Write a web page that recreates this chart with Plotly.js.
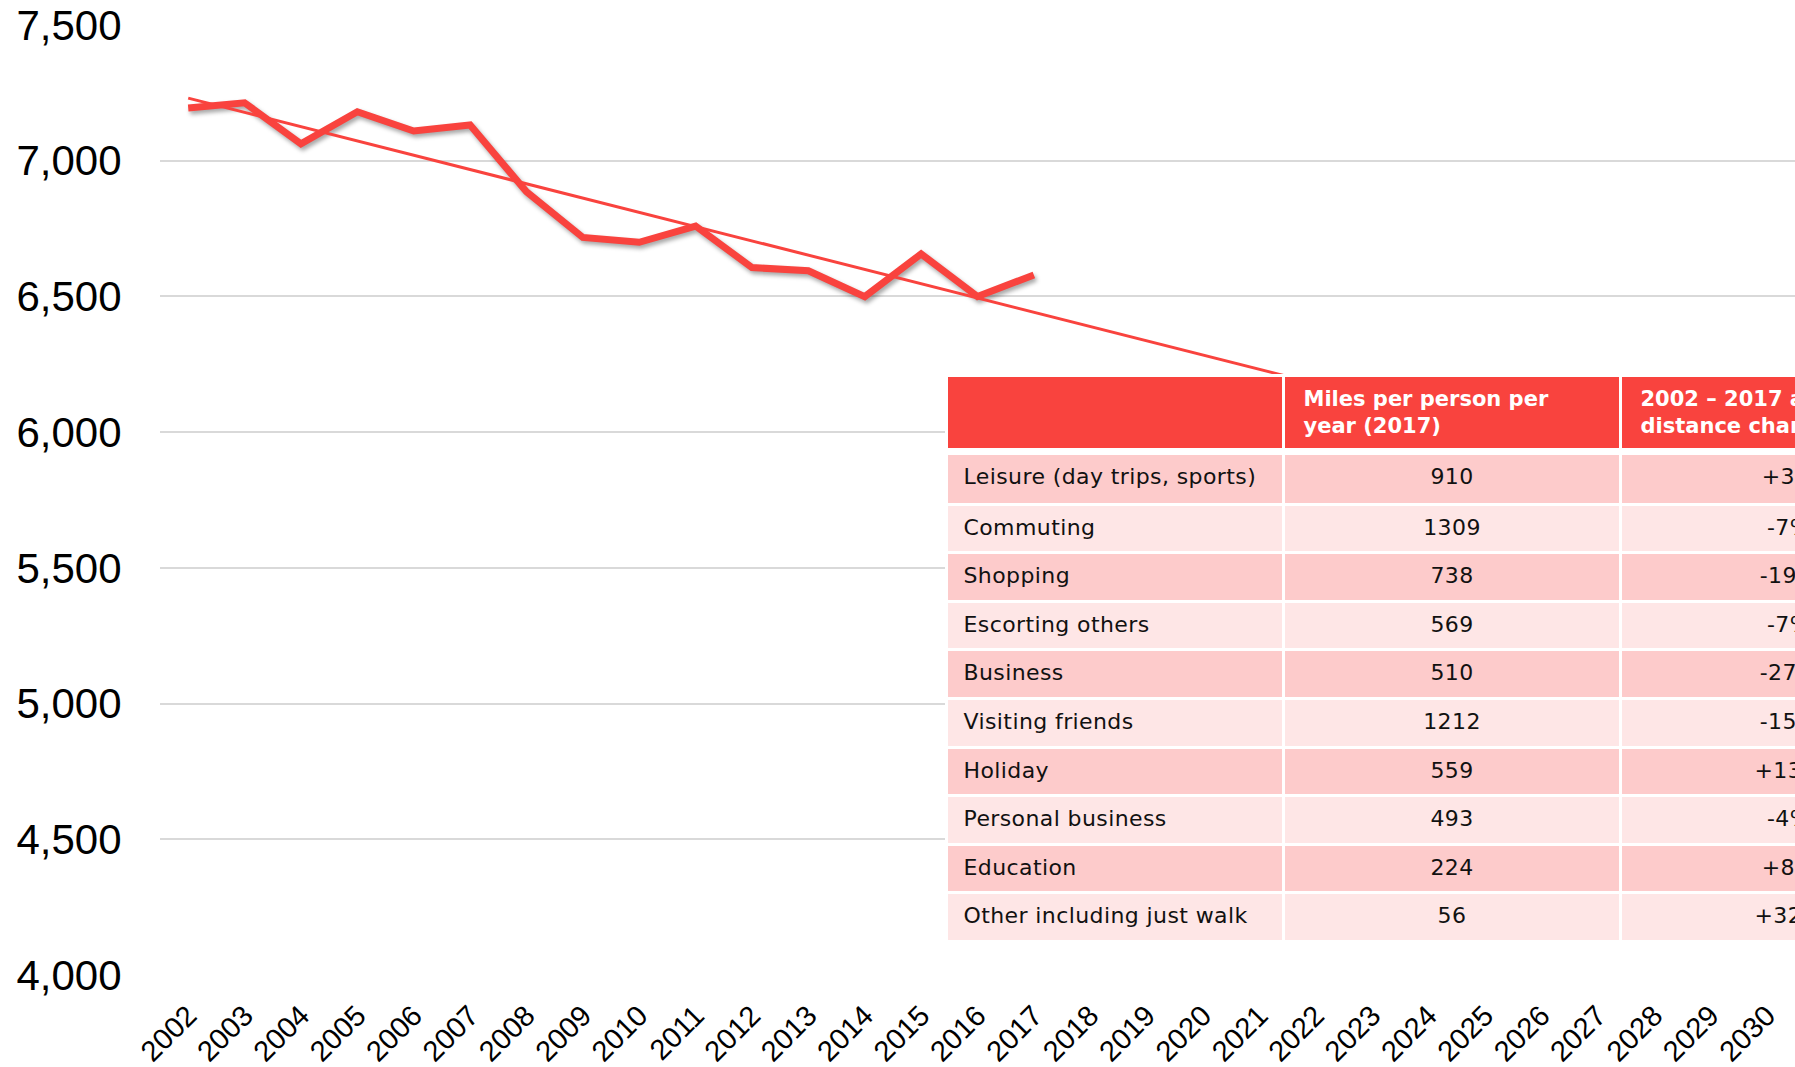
<!DOCTYPE html>
<html>
<head>
<meta charset="utf-8">
<script src="https://cdn.plot.ly/plotly-3.0.1.min.js"></script>
<style>
  html, body { margin: 0; padding: 0; overflow: hidden; background: #fff; width: 1795px; height: 1067px; }
  #chart { width: 2000px; height: 1067px; }
  .scatterlayer .trace:first-child .js-line { filter: drop-shadow(2px 3px 2px rgba(0,0,0,0.35)); }
  #chart g.table.tblA .cell-text { translate: 12px 4px; }
  #chart g.table.tblB .cell-text { translate: 0px 6px; letter-spacing: 0.4px; }
  #chart g.table.tblB .cell-text.leftcol { translate: 9px 6px; }
</style>
</head>
<body>
<div id="chart"></div>
<script>
// ---- data ----
const allYears = ['2002','2003','2004','2005','2006','2007','2008','2009','2010','2011','2012','2013','2014','2015','2016','2017','2018','2019','2020','2021','2022','2023','2024','2025','2026','2027','2028','2029','2030'];
const dataYears = ['2002','2003','2004','2005','2006','2007','2008','2009','2010','2011','2012','2013','2014','2015','2016','2017'];
const milesWalked = [7194, 7213, 7062, 7180, 7109, 7131, 6885, 6717, 6699, 6759, 6606, 6594, 6499, 6656, 6499, 6579];
const trendYears = ['2002', '2030'];
const trendValues = [7230, 5758];
const yTicks = [4000, 4500, 5000, 5500, 6000, 6500, 7000, 7500];

const tableHeader = ['', 'Miles per person per<br>year (2017)', '2002 – 2017 average<br>distance change'];
const purposes = ['Leisure (day trips, sports)', 'Commuting', 'Shopping', 'Escorting others', 'Business', 'Visiting friends', 'Holiday', 'Personal business', 'Education', 'Other including just walk'];
const miles2017 = ['910', '1309', '738', '569', '510', '1212', '559', '493', '224', '56'];
const distanceChange = ['+3%', '-7%', '-19%', '-7%', '-27%', '-15%', '+13%', '-4%', '+8%', '+32%'];

// ---- layout geometry ----
const W = 2000, H = 1067;
const mL = 160, mR = 0, mT = 24, mB = 91;
const plotW = W - mL - mR, plotH = H - mT - mB;
const xEnd = (1795 - mL) / plotW;
const tblX0 = (946.5 - mL) / plotW, tblX1 = (1958 - mL) / plotW;
const headTop = 1 - (375 - mT) / plotH;
const bodyTop = 1 - (453.5 - mT) / plotH;

const RED = '#F9433E';
const PINK = '#FDCBCB', LIGHT = '#FEE6E6';
const TFONT = 'DejaVu Sans, Verdana, sans-serif';
const rowColors = purposes.map((_, i) => i % 2 === 0 ? PINK : LIGHT);
const columns = [purposes, miles2017, distanceChange];
const firstRow = columns.map(c => c[0]);
const restRows = columns.map(c => c.slice(1));
const restColors = rowColors.slice(1);

const traces = [
  {
    type: 'scatter', mode: 'lines', x: dataYears, y: milesWalked,
    line: { color: RED, width: 7 }, hoverinfo: 'skip', showlegend: false
  },
  {
    type: 'scatter', mode: 'lines', x: trendYears, y: trendValues,
    line: { color: RED, width: 3 }, hoverinfo: 'skip', showlegend: false
  },
  {
    // red header block with a white strip under it
    type: 'table',
    domain: { x: [tblX0, tblX1], y: [0, headTop] },
    columnwidth: [1, 1, 1],
    header: {
      values: tableHeader,
      align: 'left',
      height: 74,
      fill: { color: RED },
      line: { color: '#ffffff', width: 3 },
      font: { family: TFONT, size: 21, color: '#ffffff', weight: 700 }
    },
    cells: {
      values: [[''], [''], ['']],
      height: 10,
      fill: { color: '#ffffff' },
      line: { color: '#ffffff', width: 0 },
      font: { size: 1, color: '#ffffff' }
    }
  },
  {
    // body rows
    type: 'table',
    domain: { x: [tblX0, tblX1], y: [0, bodyTop] },
    columnwidth: [1, 1, 1],
    header: {
      values: firstRow,
      align: ['left', 'center', 'center'],
      height: 50.7,
      fill: { color: PINK },
      line: { color: '#ffffff', width: 3 },
      font: { family: TFONT, size: 22, color: '#111111' }
    },
    cells: {
      values: restRows,
      align: ['left', 'center', 'center'],
      height: 48.56,
      fill: { color: [restColors, restColors, restColors] },
      line: { color: '#ffffff', width: 3 },
      font: { family: TFONT, size: 22, color: '#111111' }
    }
  }
];

const layout = {
  width: W, height: H,
  margin: { l: mL, r: mR, t: mT, b: mB, pad: 0 },
  paper_bgcolor: '#ffffff', plot_bgcolor: '#ffffff',
  showlegend: false,
  xaxis: {
    type: 'category', categoryorder: 'array', categoryarray: allYears,
    tickmode: 'array', tickvals: allYears, ticktext: allYears,
    range: [-0.5, 28.5], domain: [0, xEnd],
    showgrid: false, zeroline: false, showline: false,
    ticks: 'outside', ticklen: 10, tickcolor: 'rgba(0,0,0,0)',
    tickangle: -45,
    tickfont: { family: 'Liberation Sans, Arial, sans-serif', size: 29, color: '#000' },
    fixedrange: true
  },
  yaxis: {
    range: [3997, 7503], tickmode: 'array', tickvals: yTicks,
    tickformat: ',', showgrid: true, gridcolor: '#D9D9D9', gridwidth: 2,
    zeroline: false, showline: false,
    ticks: 'outside', ticklen: 29, tickcolor: 'rgba(0,0,0,0)',
    tickfont: { family: 'Liberation Sans, Arial, sans-serif', size: 42, color: '#000' },
    fixedrange: true
  }
};

Plotly.newPlot('chart', traces, layout, { displayModeBar: false, staticPlot: true }).then(function (gd) {
  const tables = gd.querySelectorAll('g.table');
  if (tables[0]) tables[0].classList.add('tblA');
  if (tables[1]) {
    tables[1].classList.add('tblB');
    tables[1].querySelectorAll('text.cell-text').forEach(function (t) {
      const anchor = t.getAttribute('text-anchor') || getComputedStyle(t).textAnchor;
      if (anchor === 'start') t.classList.add('leftcol');
    });
  }
});
</script>
</body>
</html>
